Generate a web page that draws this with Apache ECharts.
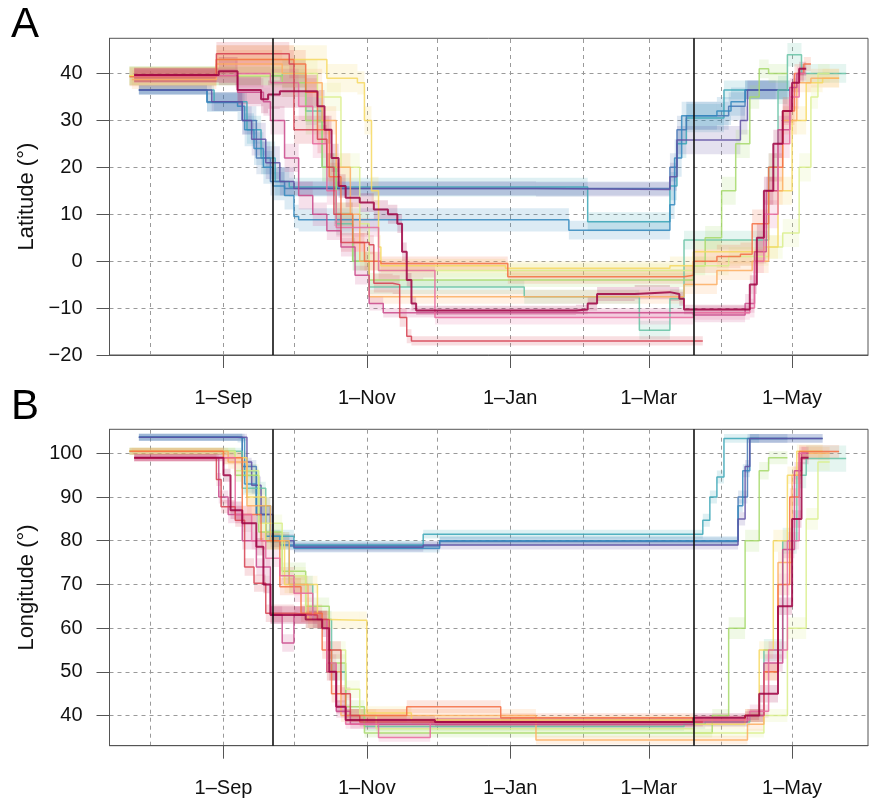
<!DOCTYPE html>
<html><head><meta charset="utf-8">
<script src="https://cdn.jsdelivr.net/npm/echarts@6/dist/echarts.min.js"></script>
<style>html,body{margin:0;padding:0;background:#fff}#c{width:870px;height:803px}</style>
</head><body><div id="c"></div>
<script>
// x = days since 1 September; each point: [day, value, half-width of confidence band]
const monthTicks = [0, 61, 122, 181, 242];
const tickLabels = ['1\u2013Sep', '1\u2013Nov', '1\u2013Jan', '1\u2013Mar', '1\u2013May'];
const monthStarts = [-31, 0, 30, 61, 91, 122, 153, 181, 212, 242];
const equinoxDays = [21, 200];
const latTicks = [-20, -10, 0, 10, 20, 30, 40];
const lonTicks = [40, 50, 60, 70, 80, 90, 100];

const latDarkRed = [[-38,39.7,1.5],[-2,40.5,3],[6,36.5,3],[16,34.5,3],[19,35.5,3],[24,36.2,3.5],[40,33,3.5],[43,28,3],[46,22,3],[49,16,2.5],[52,13.5,2],[58,12.5,2],[64,11,2],[70,10,2],[74,8,2],[76,2,2],[78,-4,1.5],[80,-9,1.5],[82,-10.5,1],[150,-10.3,1],[155,-9,1.5],[159,-7,1.5],[175,-6.6,1.5],[190,-7,1.5],[194,-8,1.5],[196,-10.3,1],[224,-5,2],[227,5,3],[230,15,3],[234,25,3],[238,32,2.5],[242,38,2],[245,41,1.5],[248,41,1.5]];
const lonDarkRed = [[-38,99,0.8],[0,95,1.5],[3,87,2],[8,84,2],[14,78.6,2],[17,70,2],[20,63,2],[35,62,2],[42,60,2],[45,50,2],[48,42,1.5],[52,39,1],[90,38.5,1],[200,39.5,1],[222,40,1],[228,45,2],[236,65,2],[242,85,2],[246,99,1.5],[249,99,1.5]];

const latCrimson = [[-38,39.7,1.5],[-3,44.2,2.5],[28,42,3],[30,28,3],[40,26,3],[44,20,3],[47,10,2.5],[50,4,2],[62,3.5,2],[64,-4.7,2],[72,-5,2],[75,-12,2],[78,-16,1.5],[80,-17,1],[204,-17,1]];
const lonCrimson = [[-38,99,0.8],[-3,94,1.5],[-1,87.8,1.5],[5,84.7,1.5],[9,74,2],[13,70.3,2],[18,63.4,2],[30,63,2],[40,62,2],[45,55,2],[50,45,1.5],[54,40,1.5],[58,38.5,1],[204,38.5,1]];

const latPink = [[-38,39.5,1.5],[5,40,3],[20,38,3],[32,33,3],[38,25,3],[44,15,3],[48,7.2,2],[64,7.2,2],[66,-2,2],[85,-2,1.5],[90,-12,1.5],[200,-11,1.5],[224,-10,2],[226,0,2.5],[230,10,3],[236,25,3],[241,35,2.5],[245,40,1.5],[248,40,1.5]];
const lonPink = [[-38,99,0.8],[5,86,2],[12,80,2],[18,76,2],[24,72,2],[30,68,2],[38,62,2],[44,52,2],[48,42,1.5],[52,38,1],[66,35,1],[88,38.5,1],[200,39,1],[224,41,1.5],[232,55,2],[240,80,2],[245,100,1.5],[248,100,1.5]];

const latMagenta = [[-38,39.5,1.5],[6,36,3],[17,34,3],[20,30,3],[26,22,3],[32,14,3],[38,10,2.5],[44,6.5,2],[50,3,2],[56,-3,2],[62,-9,1.5],[68,-11,1],[200,-11.5,1.5],[222,-9,2],[226,2,2.5],[231,15,3],[236,28,3],[241,37,2],[244,40,1.5],[247,40,1.5]];
const lonMagenta = [[-38,99,0.8],[-2,90,1.5],[2,86,2],[8,80,2],[14,74,2],[20,63,2],[25,56.6,2],[30,63,2],[40,62,2],[44,50,2],[48,41,1.5],[54,38,1],[200,38.5,1],[223,40,1.5],[230,52,2],[238,78,2],[243,96,2],[246,100,1.5],[249,100,1.5]];

const latOrange = [[-40,39.3,2],[-3,43,3],[30,42,3],[35,36,3],[40,28,3],[45,18,3],[50,10,2.5],[55,4,2],[60,0,2],[67,-0.5,1.5],[121,-3.3,1.5],[196,-3,2],[200,0,2.5],[210,1,2.5],[220,1.5,2.5],[225,8,3],[232,20,3],[238,32,3],[243,40,2],[247,42,1.5],[250,42,1.5]];
const lonOrange = [[-40,100.5,0.8],[0,99,1.5],[8,86,2],[16,80,2],[24,69.5,2],[33,63.4,2],[42,55,2],[46,45,2],[52,40,1.5],[78,42,1.5],[118,39.5,1],[200,39,1],[222,40,1.5],[230,50,2],[236,70,2.5],[241,90,2],[245,100.4,1.5],[262,100.4,1.5]];

const latLightOrange = [[-39,38.7,2],[-3,42,3],[25,40,3],[35,38,3],[42,30,3],[48,20,3],[54,10,2.5],[58,0,2],[62,-7.6,1.5],[190,-7.6,1.5],[196,-5,2],[210,-2,2],[225,0,2.5],[232,15,3],[238,30,3],[244,38,2],[250,39,2],[262,39,2]];
const lonLightOrange = [[-39,100.5,0.8],[2,98,1.5],[10,88,2],[20,80,2],[28,70,2],[36,62,2],[44,50,2],[50,40,1.5],[133,34.4,1],[223,38,1.5],[230,50,2],[236,75,2.5],[242,95,2],[246,100,1.5],[258,100,1.5]];

const latYellow = [[-40,39.5,2],[-3,43,3],[44,39,3],[57,38,2.5],[60,30,3],[63,15,3],[66,3,2.5],[67,-1,1.5],[120,-1.5,1.5],[190,-1,2],[200,2,2.5],[230,3,2.5],[236,15,3],[242,30,3],[248,38,2],[255,39,2],[262,39,2]];
const lonYellow = [[-40,100.5,0.8],[0,99,1.5],[10,90,2],[18,80,2],[26,70,2],[40,62,2],[45,61.8,2],[58,61.8,2],[61,40.6,1.5],[80,39,1],[200,38,1],[222,40,1.5],[228,55,2],[234,80,2.5],[240,95,2],[244,100.5,1.5],[255,100.5,1.5]];

const latYellowGreen = [[-40,39.5,2],[20,40,3],[40,35,3],[50,20,3],[58,8,2.5],[62,0,2],[66,-2,1.5],[200,-1,2],[215,1,2],[232,3,2.5],[238,6,3],[245,20,3],[250,35,2.5],[253,40,2],[258,40,2]];
const lonYellowGreen = [[-40,100.5,0.8],[5,96,1.5],[15,84,2],[25,72,2],[35,62,2],[45,55,2],[52,46,2],[58,40,1.5],[65,37,1],[200,36,1],[230,40,1.5],[240,60,2.5],[248,85,2.5],[253,98,2],[258,98,2]];

const latLightGreen = [[-40,39.5,2],[25,38,3],[35,30,3],[42,20,3],[48,10,2.5],[55,0,2],[62,-4,1.5],[196,-4,1.5],[200,-1,2],[205,5,2.5],[212,15,3],[218,25,3],[224,35,2.5],[228,41,2],[232,40,2],[240,40,2]];
const lonLightGreen = [[-40,100.5,0.8],[5,95,1.5],[15,82,2],[25,73,2],[35,65,2],[45,52,2],[52,42,1.5],[60,36,1],[200,36,1],[208,40,1.5],[215,60,2.5],[222,80,2.5],[228,96,2],[232,99,1.5],[240,99,1.5]];

const latGreen = [[-40,39.5,2],[25,40,3],[35,32,3],[42,20,3],[48,8,2.5],[55,0,2],[62,-5.5,1.5],[128,-7.6,1.5],[177,-14.7,2],[190,-8,2],[196,4.5,2],[225,4.5,2],[232,20,3],[236,36.5,3],[240,44,2.5],[246,40,2],[265,40,2]];
const lonGreen = [[-40,100.5,0.8],[8,92,1.5],[18,80,2],[28,70,2],[38,62,2],[46,50,2],[52,40,1.5],[60,37.5,1],[196,38,1],[205,38.5,1],[224,40,1.5],[230,55,2.5],[238,80,3],[244,95,3],[248,98.8,3],[265,98.8,3]];

const latBlue = [[-36,36.5,1],[-7,33.8,2],[6,33,3],[9,28,3.5],[13,24,3.5],[17,20,3.5],[21,16,3],[26,14,3],[30,9.5,2.5],[32,8.8,2.5],[147,6.6,2],[190,12,3],[192,22,4],[195,31,3],[210,32,3],[216,34,3],[222,36.5,2],[241,36.5,2]];
const lonBlue = [[-36,103.7,0.8],[6,103.5,1],[9,93,2],[14,86,2],[18,81,1.5],[24,79,1],[30,78.3,1],[92,80,1],[219,88,1.5],[221,96,1.5],[224,103.4,1],[255,103.4,1]];

const latPurple = [[-36,36.5,1],[-5,34,2],[8,30,3],[12,26,3.5],[18,21,3.5],[24,17,3],[30,15.5,1.5],[133,15.3,1.5],[190,18,3],[193,25.8,3],[220,30,3],[223,36.5,2],[240,36.5,2]];
const lonPurple = [[-36,103.7,0.8],[10,98,1],[12,92.7,2],[16,86,2],[21,80,1.5],[30,78.5,1],[85,79,1],[219,85,1.5],[222,97,1.5],[224,103.4,1],[255,103.4,1]];

const latTeal = [[-36,36.5,1],[-4,34,2],[10,28,3],[16,22,3.5],[22,17,3],[28,15.8,2],[155,8.4,2],[190,16,3],[193,25,3],[197,30.5,3],[213,36.5,2],[241,36.5,2]];
const lonTeal = [[-36,103.7,0.8],[8,96,1.5],[14,88,2],[20,81,1.5],[30,79,1],[85,81.5,1],[204,84.7,1.5],[207,90,1.5],[210,94.6,1.5],[213,103.4,1],[228,103.4,1]];

const latSteelBlue = [[-36,36.5,1],[-7,34,2],[8,30,3],[14,22,3.5],[20,17,3],[26,15.5,1.5],[190,20,3],[193,28,3],[197,31,3],[215,33,3],[222,36.5,2],[235,36.5,2]];
const lonSteelBlue = [[-36,103.7,0.8],[8,97,1.5],[14,86,2],[20,80,1.5],[28,78.8,1],[92,79.8,1],[219,90,1.5],[223,103.4,1],[240,103.4,1]];

const latTracks = [latTeal, latSteelBlue, latBlue, latPurple, latGreen, latLightGreen, latYellowGreen, latYellow, latLightOrange, latOrange, latMagenta, latPink, latCrimson, latDarkRed];
const lonTracks = [lonTeal, lonSteelBlue, lonBlue, lonPurple, lonGreen, lonLightGreen, lonYellowGreen, lonYellow, lonLightOrange, lonOrange, lonMagenta, lonPink, lonCrimson, lonDarkRed];
const trackColors = ['#3AA6B6', '#4575B4', '#3288BD', '#5E4FA2', '#66C2A5', '#A6D96A', '#D9EF8B', '#F6D860', '#FDAE61', '#F46D43', '#C9478A', '#E7699E', '#D53E4F', '#9E0142'];

const FONT = 'Liberation Sans, Arial, Helvetica, sans-serif';

function bandSeries(track, g, color) {
  const items = [];
  for (let i = 0; i < track.length - 1; i++) {
    items.push([track[i][0], track[i + 1][0], track[i][1] - track[i][2], track[i][1] + track[i][2]]);
  }
  return {
    type: 'custom', xAxisIndex: g, yAxisIndex: g, silent: true, clip: true, z: 1,
    encode: { x: [0, 1], y: [2, 3] },
    data: items,
    renderItem: function (params, api) {
      const a = api.coord([api.value(0), api.value(3)]);
      const b = api.coord([api.value(1), api.value(2)]);
      return { type: 'rect', shape: { x: a[0], y: a[1], width: b[0] - a[0], height: b[1] - a[1] },
               style: { fill: color, opacity: 0.17 } };
    }
  };
}
function lineSeries(track, g, color, w) {
  return {
    type: 'line', xAxisIndex: g, yAxisIndex: g, step: 'end', symbol: 'none', silent: true, z: 2,
    data: track.map(p => [p[0], p[1]]),
    lineStyle: { color: color, width: w, opacity: 0.85 }
  };
}
function gridLines(g, yVal, hVals) {
  const data = monthStarts.map(d => ({ xAxis: d }));
  if (hVals) hVals.forEach(v => data.push({ yAxis: v }));
  return {
    type: 'line', xAxisIndex: g, yAxisIndex: g, symbol: 'none', silent: true, z: 0,
    data: [[0, yVal]], lineStyle: { opacity: 0 },
    markLine: { silent: true, symbol: ['none', 'none'], label: { show: false }, z: 0, animation: false,
      lineStyle: { type: [4, 4], color: '#9a9a9a', width: 1 }, data: data }
  };
}
function equinoxLines(g, yVal) {
  return {
    type: 'line', xAxisIndex: g, yAxisIndex: g, symbol: 'none', silent: true, z: 4,
    data: [[0, yVal]], lineStyle: { opacity: 0 },
    markLine: { silent: true, symbol: ['none', 'none'], label: { show: false }, z: 4, animation: false,
      lineStyle: { type: 'solid', color: '#111', width: 1.6 }, data: equinoxDays.map(d => ({ xAxis: d })) }
  };
}

const series = [];
series.push(gridLines(0, 0, null));
series.push(gridLines(1, 50, lonTicks));
latTracks.forEach((t, i) => series.push(bandSeries(t, 0, trackColors[i])));
lonTracks.forEach((t, i) => series.push(bandSeries(t, 1, trackColors[i])));
latTracks.forEach((t, i) => series.push(lineSeries(t, 0, trackColors[i], i === 13 ? 2 : 1.5)));
lonTracks.forEach((t, i) => series.push(lineSeries(t, 1, trackColors[i], i === 13 ? 2 : 1.5)));
series.push(equinoxLines(0, 0));
series.push(equinoxLines(1, 50));

function xAxisCfg(g) {
  return {
    type: 'value', gridIndex: g, min: -48.5, max: 274.3, position: 'bottom',
    axisLine: { show: true, onZero: false, lineStyle: { color: '#555', width: 1 } },
    splitLine: { show: false },
    axisTick: { show: true, customValues: monthTicks, length: 13, lineStyle: { color: '#555', width: 1 } },
    axisLabel: { customValues: monthTicks, margin: 33, fontSize: 20, color: '#111', fontFamily: FONT,
      formatter: v => tickLabels[monthTicks.indexOf(v)] }
  };
}
function fmtNum(v) { return v < 0 ? '\u2212' + Math.abs(v) : String(v); }

const option = {
  animation: false,
  backgroundColor: '#fff',
  grid: [
    { left: 109.5, top: 38.3, width: 758.5, height: 316.7, show: true, borderColor: '#555', borderWidth: 1, backgroundColor: 'transparent' },
    { left: 109.5, top: 429.3, width: 758.5, height: 316.4, show: true, borderColor: '#555', borderWidth: 1, backgroundColor: 'transparent' }
  ],
  xAxis: [xAxisCfg(0), xAxisCfg(1)],
  yAxis: [
    { type: 'value', gridIndex: 0, min: -20, max: 47.5, interval: 10, position: 'left',
      name: 'Latitude (°)', nameLocation: 'middle', nameGap: 66,
      nameTextStyle: { fontSize: 22, color: '#111', fontFamily: FONT },
      axisLine: { show: true, onZero: false, lineStyle: { color: '#555', width: 1 } },
      axisTick: { show: true, customValues: latTicks, length: 13, lineStyle: { color: '#555' } },
      axisLabel: { customValues: latTicks, margin: 27, fontSize: 20, color: '#111', fontFamily: FONT, formatter: fmtNum },
      splitLine: { show: true, lineStyle: { type: [4, 4], color: '#9a9a9a', width: 1 } } },
    { type: 'value', gridIndex: 1, min: 33.1, max: 105.5, position: 'left',
      name: 'Longitude (°)', nameLocation: 'middle', nameGap: 66,
      nameTextStyle: { fontSize: 22, color: '#111', fontFamily: FONT },
      axisLine: { show: true, onZero: false, lineStyle: { color: '#555', width: 1 } },
      axisTick: { show: true, customValues: lonTicks, length: 13, lineStyle: { color: '#555' } },
      axisLabel: { customValues: lonTicks, margin: 27, fontSize: 20, color: '#111', fontFamily: FONT, formatter: fmtNum },
      splitLine: { show: false } }
  ],
  graphic: [
    { type: 'text', left: 11, top: 4, style: { text: 'A', fontSize: 42, fontFamily: FONT, fill: '#000' } },
    { type: 'text', left: 11, top: 386, style: { text: 'B', fontSize: 42, fontFamily: FONT, fill: '#000' } }
  ],
  series: series
};
echarts.init(document.getElementById('c'), null, { renderer: 'canvas' }).setOption(option);
</script>
</body></html>
